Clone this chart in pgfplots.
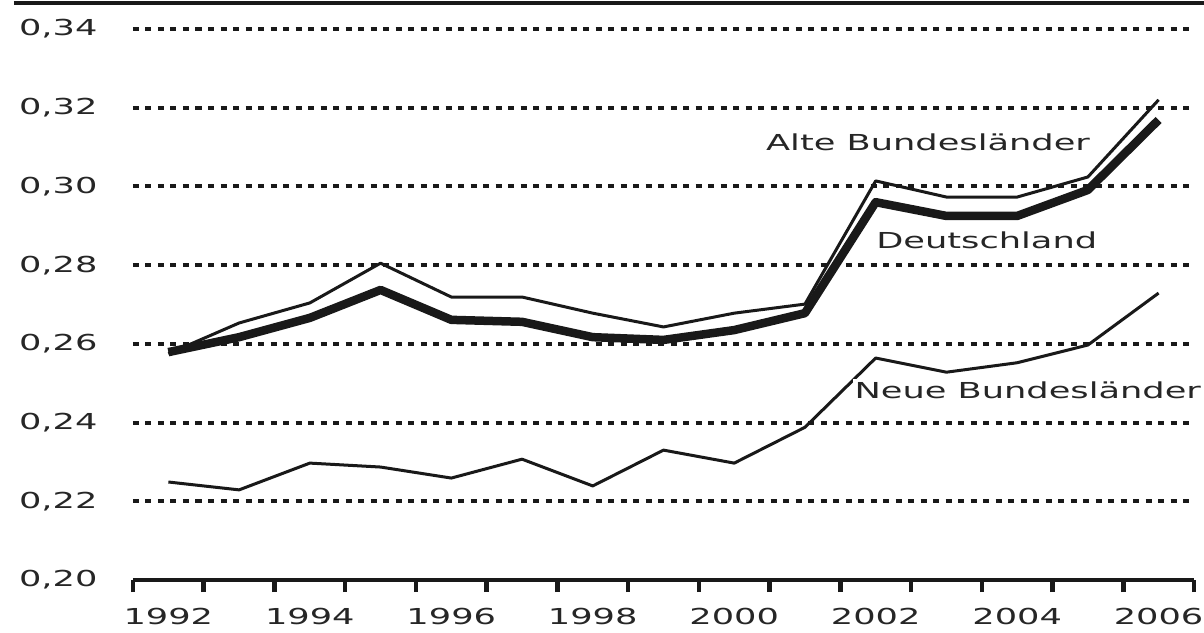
\documentclass[border=0pt]{standalone}
\usepackage{pgfplots}
\pgfplotsset{compat=1.18}
\usepackage{fontspec}
\setmainfont{DejaVu Sans}[FakeStretch=1.6]
\begin{document}
\begin{tikzpicture}
\useasboundingbox (-133pt,-52pt) rectangle (1071pt,580pt);
\draw[line width=3.7pt, black!90] (-119pt,576.8pt) -- (1071pt,576.8pt);
\begin{axis}[
  scale only axis, width=1061pt, height=551pt,
  xmin=1991.5, xmax=2006.5, ymin=0.20, ymax=0.34,
  clip=false,
  axis x line*=bottom, axis y line*=left,
  y axis line style={draw=none},
  x axis line style={line width=3.8pt, black!90},
  xtick={1992,1994,...,2006},
  xticklabels={1992,1994,1996,1998,2000,2002,2004,2006},
  minor xtick={1991.5,1992.5,...,2006.5},
  major tick length=0pt, minor tick length=12pt,
  tick align=outside,
  minor tick style={line width=4.5pt, black!90},
  ytick={0.22,0.24,...,0.341},
  yticklabels={{0,22},{0,24},{0,26},{0,28},{0,30},{0,32},{0,34}},
  extra y ticks={0.20}, extra y tick labels={0{,}20},
  extra y tick style={grid=none},
  ymajorgrids,
  grid style={dash pattern=on 6pt off 6.5pt, line width=4pt, black!90},
  tick label style={font=\fontsize{22}{24}\selectfont, text=black!85},
  /pgf/number format/assume math mode=true,
  yticklabel style={xshift=-32pt},
  xticklabel style={yshift=-25pt},
]
\addplot[black!90, line width=3pt, line join=round] coordinates {
(1992,0.2575) (1993,0.2653) (1994,0.2704) (1995,0.2805) (1996,0.2719)
(1997,0.2719) (1998,0.2678) (1999,0.2643) (2000,0.2678) (2001,0.2701)
(2002,0.3014) (2003,0.2973) (2004,0.2973) (2005,0.3024) (2006,0.3220)};
\addplot[black!90, line width=8.5pt, line join=round] coordinates {
(1992,0.2579) (1993,0.2617) (1994,0.2666) (1995,0.2737) (1996,0.2661)
(1997,0.2656) (1998,0.2617) (1999,0.2610) (2000,0.2635) (2001,0.2678)
(2002,0.2960) (2003,0.2925) (2004,0.2925) (2005,0.2991) (2006,0.3169)};
\addplot[black!90, line width=3pt, line join=round] coordinates {
(1992,0.2249) (1993,0.2229) (1994,0.2297) (1995,0.2287) (1996,0.2259)
(1997,0.2307) (1998,0.2239) (1999,0.2330) (2000,0.2297) (2001,0.2388)
(2002,0.2564) (2003,0.2528) (2004,0.2552) (2005,0.2597) (2006,0.2729)};
\node[fill=white, inner sep=2pt, text=black!85, font=\fontsize{22}{24}\selectfont] at (axis cs:2002.74,0.3113) {Alte Bundesländer};
\node[fill=white, inner sep=2pt, text=black!85, font=\fontsize{22}{24}\selectfont] at (axis cs:2003.57,0.2864) {Deutschland};
\node[fill=white, inner sep=2pt, text=black!85, font=\fontsize{22}{24}\selectfont] at (axis cs:2004.15,0.2483) {Neue Bundesländer};
\end{axis}
\end{tikzpicture}
\end{document}
